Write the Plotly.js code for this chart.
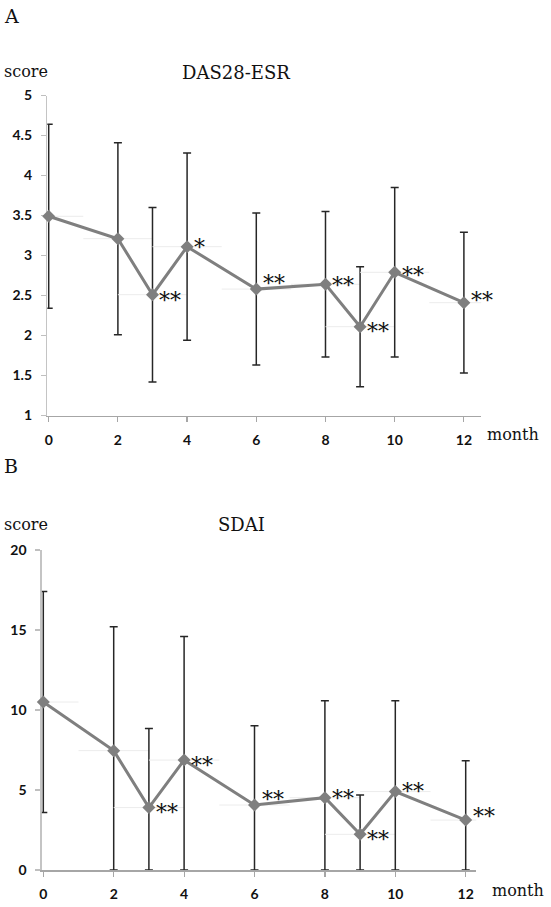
<!DOCTYPE html>
<html><head><meta charset="utf-8">
<script src="https://cdn.plot.ly/plotly-3.0.1.min.js"></script>
<style>html,body{margin:0;padding:0;background:#fff}#chart{width:551px;height:907px}</style>
</head><body><div id="chart"></div>
<script>
// ---- data ----
const months = [0, 2, 3, 4, 6, 8, 9, 10, 12];
const xTicks = [0, 2, 4, 6, 8, 10, 12];
const dasTicks = [1, 1.5, 2, 2.5, 3, 3.5, 4, 4.5, 5];
const sdaiTicks = [0, 5, 10, 15, 20];

const dasMean = [3.49, 3.21, 2.51, 3.11, 2.58, 2.64, 2.11, 2.79, 2.41];
const dasSD   = [1.15, 1.20, 1.09, 1.17, 0.95, 0.91, 0.75, 1.06, 0.88];
const dasSig  = ['', '', '**', '*', '**', '**', '**', '**', '**'];

const sdaiMean = [10.5, 7.46, 3.90, 6.87, 4.06, 4.52, 2.23, 4.90, 3.12];
const sdaiSD   = [6.90, 7.74, 4.95, 7.73, 4.96, 6.06, 2.46, 5.68, 3.71];
const sdaiSig  = ['', '', '**', '**', '**', '**', '**', '**', '**'];

// ---- layout helpers (pixel -> paper) ----
const W = 551, H = 907;
const px = v => v / W;
const py = v => 1 - v / H;

// small vertical nudges of the significance marks (px, upward)
const dasLift  = [0, 0, -1, 4, 11, 4, 0, 2, 7];
const sdaiLift = [0, 0, 0, 0, 11, 4, 0, 5, 9];

const serif = 'DejaVu Serif';
const tickFont = {family: 'Lato', size: 14, weight: 'bold', color: '#111'};
const bold = v => '<b>' + v + '</b>';

function series(mean, sd, yMin, xa, ya) {
  return {
    x: months, y: mean, xaxis: xa, yaxis: ya,
    type: 'scatter', mode: 'lines+markers', cliponaxis: false,
    line: {color: '#7f7f7f', width: 3},
    marker: {symbol: 'diamond', size: 10, color: '#7f7f7f'},
    error_y: {type: 'data', symmetric: false, array: sd,
              arrayminus: sd.map((s, i) => Math.min(s, mean[i] - yMin)),
              color: '#262626', thickness: 1.5, width: 4},
    error_x: {type: 'constant', value: 1, color: '#ececec', thickness: 1, width: 0},
    hoverinfo: 'skip'
  };
}

const traces = [
  series(dasMean, dasSD, 1, 'x', 'y'),
  series(sdaiMean, sdaiSD, 0, 'x2', 'y2')
];

const x0pad = 0.04;  // keeps the month-0 bar just inside the plotting area
function xAxis(zeroPx, unitPx, r1, anchor) {
  return {domain: [px(zeroPx - x0pad * unitPx), px(zeroPx + r1 * unitPx)], range: [-x0pad, r1],
    anchor: anchor, layer: 'below traces',
    tickvals: xTicks, ticktext: xTicks.map(bold),
    ticks: 'outside', ticklen: 5, tickwidth: 1.2, tickcolor: '#a6a6a6',
    showline: true, linecolor: '#a6a6a6', linewidth: 1.5,
    showgrid: false, zeroline: false, tickfont: tickFont, ticklabelstandoff: 6, fixedrange: true};
}
function yAxis(d0, d1, range, ticks, anchor) {
  return {domain: [d0, d1], range: range, anchor: anchor, layer: 'below traces',
    tickvals: ticks, ticktext: ticks.map(bold),
    ticks: 'outside', ticklen: 5, tickwidth: 1.2, tickcolor: '#bfbfbf',
    showline: true, linecolor: '#c4c4c4', linewidth: 1.5,
    showgrid: false, zeroline: false, tickfont: tickFont, ticklabelstandoff: 6, fixedrange: true};
}

const annotations = [];
function stars(sig, mean, lift, xa, ya) {
  sig.forEach((t, i) => {
    if (!t) return;
    annotations.push({x: months[i], y: mean[i], xref: xa, yref: ya, text: t,
      showarrow: false, xanchor: 'left', yanchor: 'middle', xshift: 5, yshift: lift[i] - 5,
      font: {family: serif, size: 22, color: '#111'}});
  });
}
stars(dasSig, dasMean, dasLift, 'x', 'y');
stars(sdaiSig, sdaiMean, sdaiLift, 'x2', 'y2');

function label(text, x, y, xanchor, size) {
  annotations.push({text: text, x: px(x), y: py(y), xref: 'paper', yref: 'paper',
    xanchor: xanchor, yanchor: 'middle', showarrow: false,
    font: {family: serif, size: size, color: '#111'}});
}
label('A', 2, 16, 'left', 19);
label('B', 2, 466, 'left', 19);
label('DAS28-ESR', 236, 73, 'center', 18);
label('SDAI', 241, 524, 'center', 18);
label('score', 2, 71, 'left', 16);
label('score', 2, 524, 'left', 16);
label('month', 485, 435, 'left', 16);
label('month', 490, 890, 'left', 16);

const layout = {
  width: W, height: H, margin: {l: 0, r: 0, t: 0, b: 0},
  paper_bgcolor: '#fff', plot_bgcolor: '#fff', showlegend: false,
  xaxis:  xAxis(48.7, 34.6, 12.5, 'y'),
  yaxis:  yAxis(py(415.5), py(95.5), [1, 5], dasTicks, 'x'),
  xaxis2: xAxis(43.3, 35.2, 12.3, 'y2'),
  yaxis2: yAxis(py(870), py(550), [0, 20], sdaiTicks, 'x2'),
  annotations: annotations
};

Plotly.newPlot('chart', traces, layout, {staticPlot: true, displayModeBar: false});
</script>
</body></html>
